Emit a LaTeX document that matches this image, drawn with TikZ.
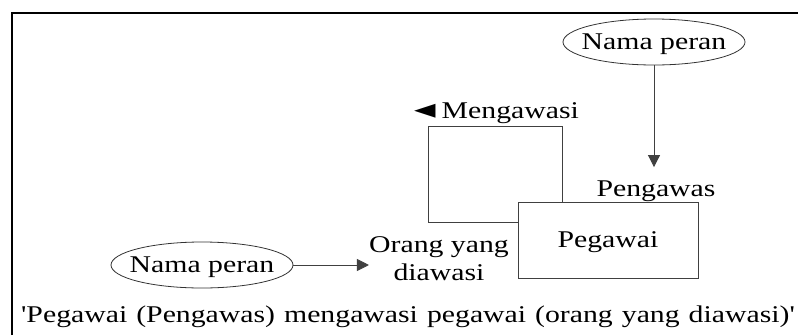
\documentclass[tikz,border=0pt]{standalone}
\usepackage{fontspec}
\setmainfont{Liberation Serif}[FakeStretch=1.24]
\newfontfamily\quotefont{Liberation Serif}[FakeStretch=1.24, Ligatures=TeXOff]
\newfontfamily\symfont{DejaVu Sans}
\newcommand{\sq}{{\quotefont'}}
\usetikzlibrary{arrows.meta,shapes.geometric}

\begin{document}
\begin{tikzpicture}[x=1pt, y=-1pt,
  font=\fontsize{24}{28}\selectfont,
  role/.style={draw=black!80, ellipse, line width=0.8pt, minimum width=182pt,
               minimum height=46pt, inner xsep=-10pt, inner ysep=0pt,
               text height=15pt, text depth=0pt},
  entity/.style={draw=black!75, line width=0.8pt, minimum width=180pt,
                 minimum height=76pt, inner sep=0pt, text height=15pt, text depth=0pt},
  lbl/.style={inner sep=0pt, anchor=base},
  conn/.style={draw=black!75, line width=0.8pt},
  arr/.style={conn, -{Triangle[length=12pt, width=12pt]}}
]
  \useasboundingbox (0,0) rectangle (798,335);

  % frame
  \draw[line width=2pt] (12,335) -- (12,13) -- (798,13);

  % entity and its role names
  \node[entity] (peg) at (608,240) {Pegawai};
  \node[role] (topRole) at (654,42) {Nama peran};
  \node[role] (botRole) at (202,265) {Nama peran};
  \node[lbl] (pengawas) at (656,196) {Pengawas};
  \node[lbl, align=center] (orang) at (439,280) {Orang yang\\diawasi};
  \node[lbl, anchor=base west] (rel) at (414,118)
    {{\symfont\fontsize{28}{28}\selectfont\char"25C4}\hspace{6pt}Mengawasi};

  % recursive relationship
  \draw[conn] ([xshift=45pt]peg.north west) |- (428,126) |- ([yshift=18pt]peg.west);

  % role arrows
  \draw[arr, shorten >=13pt] (topRole.south) -- (topRole.south |- pengawas.north);
  \draw[arr] (botRole.east) -- (botRole.east -| orang.west);

  \node[lbl] (caption) at (408,322) {\spaceskip=9pt\sq Pegawai (Pengawas) mengawasi pegawai (orang yang diawasi)\sq};
\end{tikzpicture}
\end{document}
